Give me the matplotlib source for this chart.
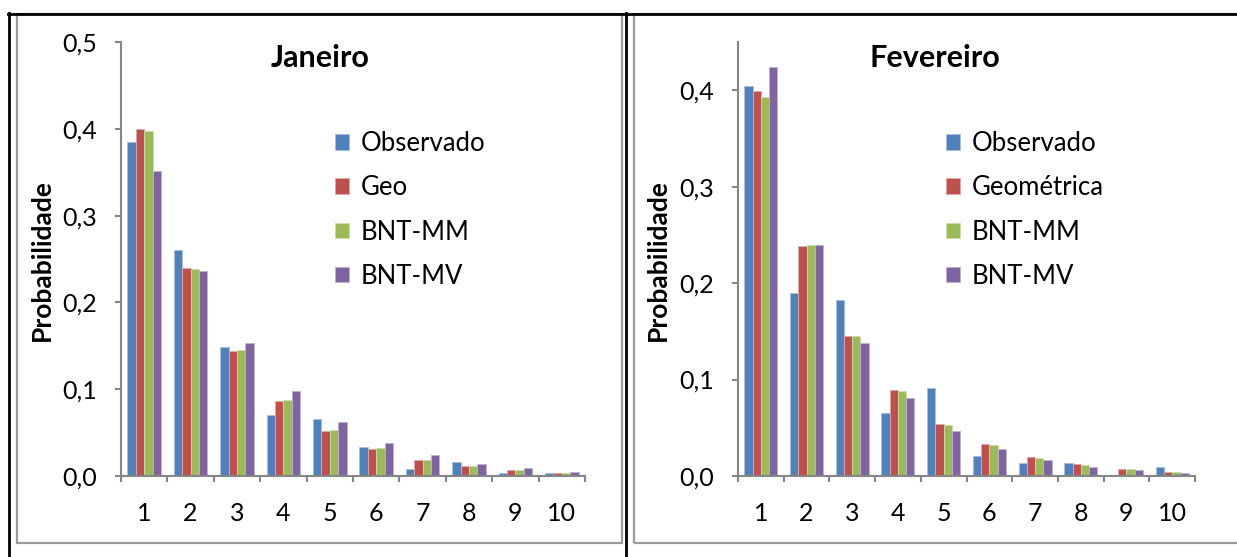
import numpy as np
import matplotlib.pyplot as plt
from matplotlib.lines import Line2D
from matplotlib.patches import Rectangle

plt.rcParams['font.family'] = ['Lato', 'DejaVu Sans']

categorias = [1, 2, 3, 4, 5, 6, 7, 8, 9, 10]

# Janeiro
jan_obs = [0.385, 0.260, 0.149, 0.070, 0.066, 0.033, 0.008, 0.016, 0.003, 0.004]
jan_geo = [0.400, 0.240, 0.144, 0.086, 0.052, 0.031, 0.019, 0.011, 0.007, 0.004]
jan_mm = [0.397, 0.239, 0.145, 0.088, 0.053, 0.032, 0.019, 0.011, 0.007, 0.004]
jan_mv = [0.351, 0.236, 0.153, 0.098, 0.062, 0.038, 0.024, 0.014, 0.009, 0.005]

# Fevereiro
fev_obs = [0.404, 0.190, 0.183, 0.065, 0.091, 0.021, 0.013, 0.013, 0.000, 0.009]
fev_geo = [0.399, 0.238, 0.145, 0.089, 0.054, 0.033, 0.020, 0.012, 0.007, 0.0045]
fev_mm = [0.393, 0.239, 0.145, 0.088, 0.053, 0.032, 0.019, 0.011, 0.007, 0.004]
fev_mv = [0.424, 0.240, 0.138, 0.081, 0.047, 0.028, 0.0165, 0.0096, 0.006, 0.0035]

cores = ['#4F81BD', '#C0504D', '#9BBB59', '#8064A2']
bordas = ['#A7C0DE', '#DFA8A6', '#CDDDAC', '#BFB1D0']

W, H = 1237, 557
fig = plt.figure(figsize=(W / 100, H / 100), dpi=100)


def painel(rect, series, nomes, titulo, ymax, yticks, leg_xy, title_xy, ylab_x):
    ax = fig.add_axes(rect)
    x = np.arange(1, 11)
    bw = 0.18
    for i, (vals, nome) in enumerate(zip(series, nomes)):
        ax.bar(x + (i - 1.5) * bw, vals, width=bw, color=cores[i],
               edgecolor=bordas[i], linewidth=0.6, label=nome, zorder=2)
    ax.set_xlim(0.5, 10.5)
    ax.set_ylim(0, ymax)
    ax.set_yticks(yticks)
    ax.set_yticklabels([f'{v:.1f}'.replace('.', ',') for v in yticks], fontsize=18)
    ax.set_xticks(x)
    ax.set_xticklabels([str(c) for c in categorias], fontsize=18)
    ax.set_xticks(np.arange(0.5, 11, 1), minor=True)
    ax.tick_params(axis='x', which='major', length=0, pad=19)
    ax.tick_params(axis='x', which='minor', length=4.5, width=1.5, color='#868686')
    ax.tick_params(axis='y', length=4.5, width=1.5, color='#868686', pad=13)
    for s in ['top', 'right']:
        ax.spines[s].set_visible(False)
    for s in ['left', 'bottom']:
        ax.spines[s].set_color('#868686')
        ax.spines[s].set_linewidth(1.5)
    ax.spines['left'].set_bounds(0, ymax)
    ax.legend(frameon=False, loc='upper left', bbox_to_anchor=leg_xy,
              bbox_transform=fig.transFigure, fontsize=18.5,
              handlelength=0.55, handleheight=0.55, handletextpad=0.45,
              labelspacing=0.75, borderpad=0, borderaxespad=0)
    fig.text(title_xy[0] / W, 1 - title_xy[1] / H, titulo, fontsize=22,
             fontweight='bold', ha='center', va='center')
    fig.text(ylab_x / W, 1 - 260 / H, 'Probabilidade', fontsize=19,
             fontweight='bold', rotation=90, ha='center', va='center')
    return ax


y0, y1 = 1 - 476 / H, 1 - 42 / H
painel([121 / W, y0, (585 - 121) / W, y1 - y0],
       [jan_obs, jan_geo, jan_mm, jan_mv],
       ['Observado', 'Geo', 'BNT-MM', 'BNT-MV'],
       'Janeiro', 0.5, [0.0, 0.1, 0.2, 0.3, 0.4, 0.5],
       (335 / W, 1 - 131 / H), (320, 58), 42)
painel([738 / W, y0, (1195 - 738) / W, y1 - y0],
       [fev_obs, fev_geo, fev_mm, fev_mv],
       ['Observado', 'Geométrica', 'BNT-MM', 'BNT-MV'],
       'Fevereiro', 0.45, [0.0, 0.1, 0.2, 0.3, 0.4],
       (946 / W, 1 - 131 / H), (935, 58), 658)

# molduras dos gráficos (cinza) e linhas da tabela (preto)
for x0, x1 in [(17, 622), (634, 1240)]:
    fig.patches.append(Rectangle((x0 / W, 1 - 543 / H), (x1 - x0) / W, (543 - 14) / H,
                                 transform=fig.transFigure, fill=False,
                                 edgecolor='#9a9a9a', linewidth=1.6))
fig.lines.append(Line2D([8 / W, 1], [1 - 13.5 / H] * 2, transform=fig.transFigure,
                        color='black', linewidth=2))
for xl in [8.5, 626]:
    fig.lines.append(Line2D([xl / W] * 2, [0, 1 - 13 / H], transform=fig.transFigure,
                            color='black', linewidth=2))

fig.savefig('out.png', dpi=100, facecolor='white')
